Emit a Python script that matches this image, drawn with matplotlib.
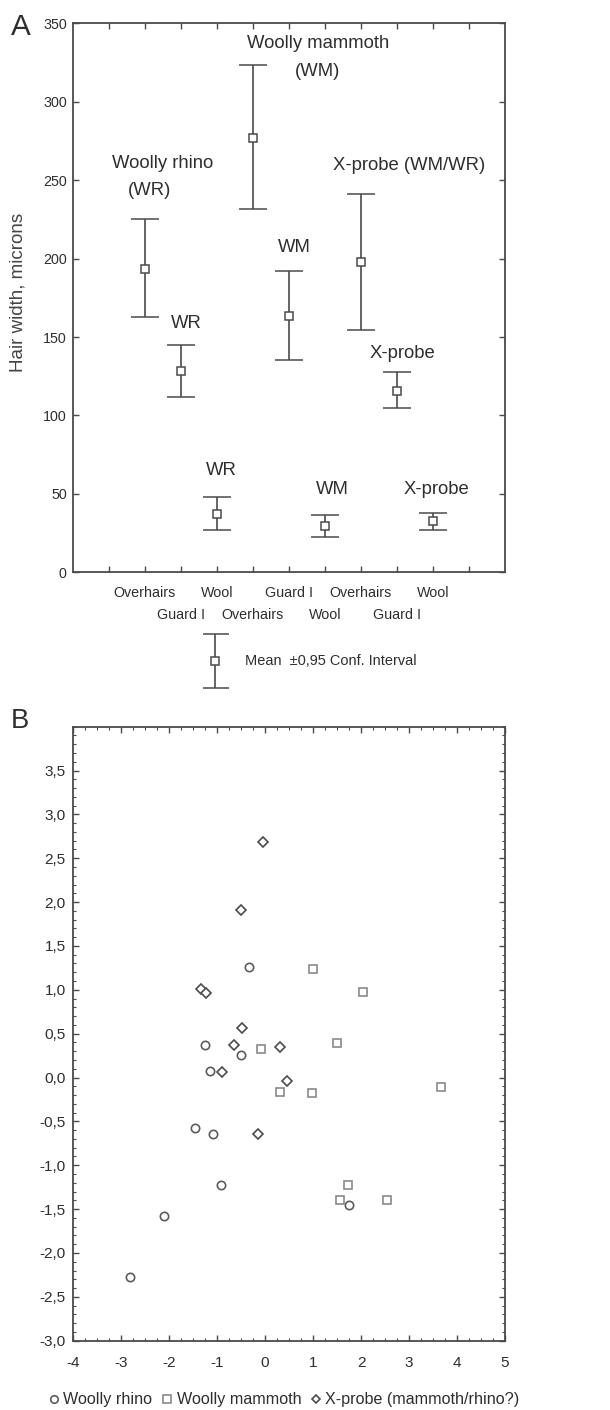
import matplotlib
matplotlib.use("Agg")
import matplotlib.pyplot as plt
from matplotlib.ticker import MultipleLocator, FuncFormatter
import numpy as np

plt.rcParams['font.family'] = ['Liberation Sans', 'DejaVu Sans']
plt.rcParams['axes.unicode_minus'] = False

# ---------------- Panel A data ----------------
positions = [2, 3, 4, 5, 6, 7, 8, 9, 10]
means = [193.5, 128.6, 37.1, 277.0, 163.7, 29.6, 197.8, 115.8, 32.8]
ci_low = [162.7, 111.6, 26.8, 231.9, 135.4, 22.7, 154.2, 104.8, 26.8]
ci_high = [225.0, 144.6, 48.0, 323.2, 192.0, 36.5, 241.4, 127.9, 38.1]
tick_labels_row1 = ["Overhairs", "Wool", "Guard I", "Overhairs", "Wool"]
tick_pos_row1 = [2, 4, 6, 8, 10]
tick_labels_row2 = ["Guard I", "Overhairs", "Wool", "Guard I"]
tick_pos_row2 = [3, 5, 7, 9]
annotations = [
    ("Woolly rhino", 2.5, 260.8),
    ("(WR)", 2.14, 243.6),
    ("Woolly mammoth", 6.8, 337.4),
    ("(WM)", 6.8, 319.0),
    ("X-probe (WM/WR)", 9.33, 259.5),
    ("WR", 3.16, 158.4),
    ("WM", 6.14, 207.3),
    ("X-probe", 9.14, 139.7),
    ("WR", 4.13, 65.2),
    ("WM", 7.2, 53.0),
    ("X-probe", 10.1, 53.0),
]

# ---------------- Panel B data ----------------
rhino_x = [-0.34, -1.25, -0.51, -1.16, -1.46, -1.08, -0.93, -2.10, -2.82, 1.74]
rhino_y = [1.26, 0.37, 0.26, 0.08, -0.58, -0.64, -1.22, -1.58, -2.27, -1.45]
mammoth_x = [1.00, 2.03, 1.49, -0.09, 3.67, 0.31, 0.98, 1.72, 1.57, 2.54]
mammoth_y = [1.24, 0.98, 0.39, 0.33, -0.11, -0.17, -0.18, -1.23, -1.40, -1.40]
xprobe_x = [-0.05, -0.51, -1.34, -1.23, -0.48, -0.66, 0.31, -0.91, 0.46, -0.16]
xprobe_y = [2.68, 1.91, 1.01, 0.96, 0.57, 0.37, 0.35, 0.06, -0.04, -0.64]
series_labels = ["Woolly rhino", "Woolly mammoth", "X-probe (mammoth/rhino?)"]

LINE = "#4a4a4a"
TXT = "#2e2e2e"
k = 0.82

fig = plt.figure(figsize=(6.1, 14.1), dpi=100)

# ---------------- Panel A ----------------
axA = fig.add_axes([0.1197, 0.5941, 0.708, 0.3894])
means_a = np.array(means)
yerr = [means_a - np.array(ci_low), np.array(ci_high) - means_a]
axA.errorbar(positions, means, yerr=yerr, fmt='s', color=LINE, ecolor=LINE,
             elinewidth=1.2, capsize=10, capthick=1.2, markersize=6,
             markerfacecolor='white', markeredgecolor=LINE, markeredgewidth=1.1,
             linestyle='none')
axA.set_xlim(0, 12)
axA.set_ylim(0, 350)
axA.set_xticks(range(1, 12))
axA.set_xticklabels([])
axA.set_yticks(range(0, 351, 50))
axA.tick_params(axis='both', direction='in', length=4, width=1, color=LINE,
                top=True, right=True, labelsize=12.5 * k, labelcolor=TXT, pad=4.5)
for s in axA.spines.values():
    s.set_color(LINE)
    s.set_linewidth(1.3)
for lab, p in zip(tick_labels_row1, tick_pos_row1):
    axA.text(p, -9, lab, ha='center', va='top', fontsize=12.5 * k, color=TXT,
             clip_on=False)
for lab, p in zip(tick_labels_row2, tick_pos_row2):
    axA.text(p, -22.5, lab, ha='center', va='top', fontsize=12.5 * k, color=TXT,
             clip_on=False)
for txt, x, y in annotations:
    axA.text(x, y, txt, ha='center', va='center', fontsize=16.3 * k, color=TXT)
axA.set_ylabel("Hair width, microns", fontsize=13.5, color="#444444")
axA.yaxis.set_label_coords(-0.108, 0.5106)
fig.text(0.0344, 0.9809, "A", fontsize=26 * k, color=TXT, ha='center', va='center')

# legend for panel A
axL = fig.add_axes([0.333, 0.511, 0.04, 0.04])
axL.errorbar([0], [0], yerr=[[1], [1]], fmt='s', color=LINE, ecolor=LINE,
             elinewidth=1.2, capsize=10, capthick=1.2, markersize=6,
             markerfacecolor='white', markeredgecolor=LINE, markeredgewidth=1.1)
axL.set_xlim(-1, 1)
axL.set_ylim(-1.05, 1.05)
axL.axis('off')
fig.text(0.402, 0.5312, "Mean  \u00b10,95 Conf. Interval", fontsize=12.7 * k,
         color=TXT, ha='left', va='center')

# ---------------- Panel B ----------------
axB = fig.add_axes([0.1202, 0.04915, 0.7077, 0.4355])
h1, = axB.plot(rhino_x, rhino_y, 'o', markersize=6, markerfacecolor='white',
               markeredgecolor='#5c5c5c', markeredgewidth=1.2, linestyle='none')
h2, = axB.plot(mammoth_x, mammoth_y, 's', markersize=6, markerfacecolor='white',
               markeredgecolor='#8a8a8a', markeredgewidth=1.2, linestyle='none')
h3, = axB.plot(xprobe_x, xprobe_y, 'D', markersize=5, markerfacecolor='white',
               markeredgecolor='#4c4c4c', markeredgewidth=1.2, linestyle='none')
axB.set_xlim(-4, 5)
axB.set_ylim(-3.0, 4.0)
axB.set_xticks(range(-4, 6))
axB.set_yticks(np.arange(-3.0, 3.51, 0.5))
axB.xaxis.set_minor_locator(MultipleLocator(0.25))
axB.yaxis.set_minor_locator(MultipleLocator(0.1))
axB.yaxis.set_major_formatter(FuncFormatter(lambda v, p: f"{v:.1f}".replace('.', ',').replace('-0,0', '0,0')))
axB.tick_params(axis='both', which='major', direction='in', length=4, width=1,
                color=LINE, top=True, right=True, labelsize=13.5 * k, labelcolor=TXT, pad=5.5)
axB.tick_params(axis='x', which='major', pad=11)
axB.tick_params(axis='both', which='minor', direction='in', length=2, width=0.8,
                color=LINE, top=True, right=True)
for s in axB.spines.values():
    s.set_color(LINE)
    s.set_linewidth(1.3)
fig.text(0.0328, 0.4887, "B", fontsize=24 * k, color=TXT, ha='center', va='center')

fig.legend([h1, h2, h3], series_labels, loc='center', bbox_to_anchor=(0.466, 0.0072),
           ncol=3, frameon=False, fontsize=14.2 * k, handlelength=0.6, handletextpad=0.3,
           columnspacing=0.6, labelcolor=TXT, markerscale=0.9)

fig.savefig("out.png", dpi=100, facecolor='white')
